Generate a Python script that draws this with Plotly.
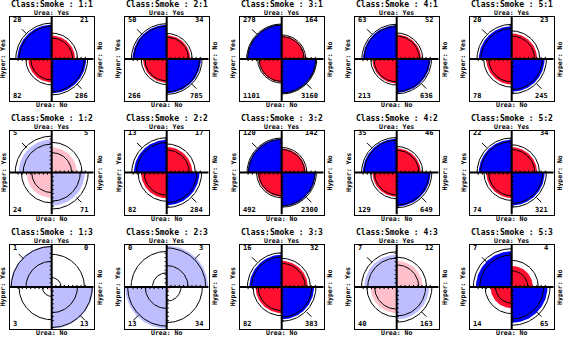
import numpy as np
import plotly.graph_objects as go

# ---------------- data ----------------
class_labels = ["1", "2", "3", "4", "5"]
smoke_labels = ["1", "2", "3"]
# cell order: (Urea Yes, Hyper Yes), (Urea Yes, Hyper No), (Urea No, Hyper Yes), (Urea No, Hyper No)
smoke_1 = [[28, 21, 82, 286], [50, 34, 266, 785], [278, 164, 1101, 3160], [63, 52, 213, 636], [20, 23, 78, 245]]
smoke_2 = [[5, 5, 24, 71], [13, 17, 82, 284], [120, 142, 492, 2300], [35, 46, 129, 649], [22, 34, 74, 321]]
smoke_3 = [[1, 0, 3, 13], [0, 3, 13, 34], [16, 32, 82, 383], [7, 12, 40, 163], [7, 4, 14, 65]]
counts_by_smoke = [smoke_1, smoke_2, smoke_3]
row_label = ["Urea: Yes", "Urea: No"]
col_label = ["Hyper: Yes", "Hyper: No"]

# ---------------- layout constants ----------------
W, H = 563, 337
HALF = 42
col_centers = [51.7 + 115 * i for i in range(5)]
row_centers = [59.0, 172.6, 287.0]
K = 1.4
Z = 1.96
DARK_BLUE, DARK_RED = "#0000FF", "#FF1030"
LIGHT_BLUE, LIGHT_RED = "#BEBEFF", "#FFC0CB"
FONT = "DejaVu Sans Mono"
QUAD_ANG = [(90, 180), (0, 90), (180, 270), (270, 360)]


def standardize(cells, iters=50):
    t = np.array(cells, float).reshape(2, 2)
    for _ in range(iters):
        t = t / t.sum(axis=1, keepdims=True) * 0.5
        t = t / t.sum(axis=0, keepdims=True) * 0.5
    return t.flatten()


def ci_bounds(cells):
    c = np.array(cells, float)
    if (c == 0).any():
        c = c + 0.5
    lor = np.log(c[0] * c[3] / (c[1] * c[2]))
    se = np.sqrt((1.0 / c).sum())
    return lor - Z * se, lor + Z * se


def ring_radii(lor_b):
    s = np.exp(lor_b / 2)
    pd = 0.5 * s / (1 + s)
    rd, ro = K * np.sqrt(pd), K * np.sqrt(max(0.5 - pd, 0))
    return [rd, ro, ro, rd]


def arc(r, a0, a1, n=40):
    t = np.radians(np.linspace(a0, a1, n))
    return list(r * np.cos(t)), list(r * np.sin(t))


fig = go.Figure()
annotations = []

for ri, smk in enumerate(smoke_labels):
    for ci, cls in enumerate(class_labels):
        n = ri * 5 + ci + 1
        xa = "x" if n == 1 else f"x{n}"
        ya = "y" if n == 1 else f"y{n}"
        cx, cy = col_centers[ci], row_centers[ri]
        cells = counts_by_smoke[ri][ci]
        p = standardize(cells)
        lo, hi = ci_bounds(cells)
        sig = lo > 0 or hi < 0
        rings = [ring_radii(lo), ring_radii(hi)]

        # quarter-circle fills
        for q in range(4):
            r = K * np.sqrt(p[q])
            blue = p[q] >= 0.25
            if sig:
                col = DARK_BLUE if blue else DARK_RED
            else:
                col = LIGHT_BLUE if blue else LIGHT_RED
            a0, a1 = QUAD_ANG[q]
            xs, ys = arc(r, a0, a1)
            fig.add_trace(go.Scatter(x=[0] + xs + [0], y=[0] + ys + [0], mode="lines",
                                     fill="toself", fillcolor=col, line=dict(width=0),
                                     xaxis=xa, yaxis=ya, hoverinfo="skip", showlegend=False))

        # confidence rings + diagonal marks
        rx, ry = [], []
        for q in range(4):
            a0, a1 = QUAD_ANG[q]
            for rr in rings:
                xs, ys = arc(rr[q], a0, a1)
                rx += xs + [None]
                ry += ys + [None]
            if p[q] >= 0.25:
                rfill = K * np.sqrt(p[q])
                r0 = max(0.84, rfill - 0.03)
                r1 = r0 + 0.16
                am = np.radians((a0 + a1) / 2)
                rx += [r0 * np.cos(am), r1 * np.cos(am), None]
                ry += [r0 * np.sin(am), r1 * np.sin(am), None]
        fig.add_trace(go.Scatter(x=rx, y=ry, mode="lines", line=dict(color="black", width=1),
                                 xaxis=xa, yaxis=ya, hoverinfo="skip", showlegend=False))

        # central cross
        fig.add_trace(go.Scatter(x=[-1, 1, None, 0, 0], y=[0, 0, None, -1, 1], mode="lines",
                                 line=dict(color="black", width=2),
                                 xaxis=xa, yaxis=ya, hoverinfo="skip", showlegend=False))
        # small scale ticks along the cross
        tx, ty = [], []
        for v in np.arange(0.1, 0.85, 0.1):
            tx += [-v, -v, None, v, v, None, 0, 0.05, None, 0, -0.05, None]
            ty += [0, -0.05, None, 0, 0.05, None, -v, -v, None, v, v, None]
        fig.add_trace(go.Scatter(x=tx, y=ty, mode="lines", line=dict(color="black", width=1),
                                 xaxis=xa, yaxis=ya, hoverinfo="skip", showlegend=False))

        # axes (frame)
        xkey = "xaxis" if n == 1 else f"xaxis{n}"
        ykey = "yaxis" if n == 1 else f"yaxis{n}"
        common = dict(range=[-1, 1], showgrid=False, zeroline=False, showticklabels=False,
                      ticks="", showline=True, mirror=True, linecolor="black", linewidth=1,
                      fixedrange=True)
        fig.layout[xkey] = dict(domain=[(cx - HALF) / W, (cx + HALF) / W], anchor=ya, **common)
        fig.layout[ykey] = dict(domain=[1 - (cy + HALF) / H, 1 - (cy - HALF) / H], anchor=xa, **common)

        def px(dx, dy):
            return (cx + dx) / W, 1 - (cy + dy) / H

        # title & labels
        x0, y0 = px(0, -54.2)
        annotations.append(dict(x=x0, y=y0, xref="paper", yref="paper", showarrow=False,
                                text=f"<b>Class:Smoke : {cls}:{smk}</b>", xanchor="center", yanchor="middle",
                                borderpad=0, font=dict(family=FONT, size=8, color="black")))
        for txt, dy in [(row_label[0], -45.8), (row_label[1], 46.0)]:
            x0, y0 = px(0, dy)
            annotations.append(dict(x=x0, y=y0, xref="paper", yref="paper", showarrow=False,
                                    text=f"<b>{txt}</b>", xanchor="center", yanchor="middle",
                                    borderpad=0, font=dict(family=FONT, size=6.5, color="black")))
        for txt, dx in [(col_label[0], -48.4), (col_label[1], 48.2)]:
            x0, y0 = px(dx, 0)
            annotations.append(dict(x=x0, y=y0, xref="paper", yref="paper", showarrow=False,
                                    text=f"<b>{txt}</b>", xanchor="center", yanchor="middle",
                                    borderpad=0, textangle=-90,
                                    font=dict(family=FONT, size=6.5, color="black")))
        # counts in the corners
        corner = [(-0.94, 0.94, "left"), (0.88, 0.94, "right"), (-0.94, -0.89, "left"), (0.88, -0.89, "right")]
        for q in range(4):
            ux, uy, anc = corner[q]
            annotations.append(dict(x=ux, y=uy, xref=xa, yref=ya, showarrow=False,
                                    text=f"<b>{cells[q]}</b>", xanchor=anc, yanchor="middle",
                                    borderpad=0, font=dict(family=FONT, size=7, color="black")))

fig.update_layout(width=W, height=H, margin=dict(l=0, r=0, t=0, b=0),
                  plot_bgcolor="white", paper_bgcolor="white", annotations=annotations,
                  showlegend=False)
fig.write_html("out.html")
